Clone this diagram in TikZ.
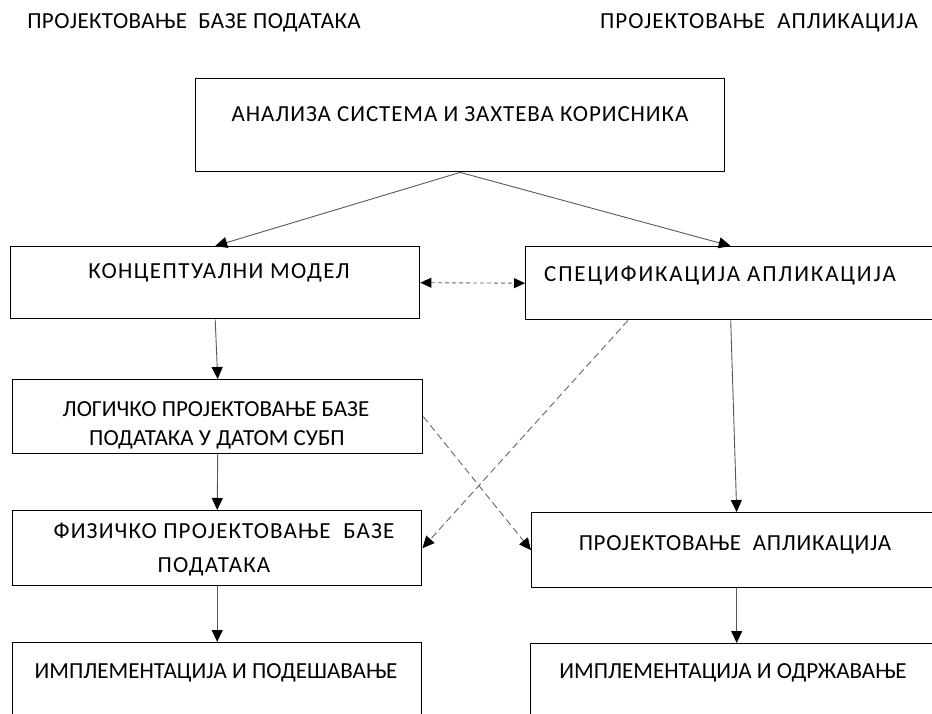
\documentclass[tikz,border=0pt]{standalone}
\usepackage{fontspec}
\setmainfont{Carlito}
\usetikzlibrary{arrows.meta,calc}
\newcommand{\ls}[1]{\addfontfeatures{LetterSpace=#1}}
\begin{document}
\begin{tikzpicture}[x=1pt,y=-1pt,
  box/.style={draw=black, line width=1.4pt, inner sep=0pt, anchor=north west},
  lbl/.style={font=\fontsize{23}{27}\selectfont, inner sep=0pt, anchor=base},
  tip/.style={-{Triangle[length=12pt,width=11pt,color=black]}},
  conn/.style={draw=black!65, line width=0.9pt, tip},
  dconn/.style={draw=black!60, line width=0.9pt, dash pattern=on 7pt off 4pt, tip},
  dd/.style={draw=black!60, line width=0.9pt, dash pattern=on 4pt off 3pt,
    {Triangle[length=11pt,width=10pt,color=black]}-{Triangle[length=11pt,width=10pt,color=black]}},
]
\useasboundingbox (0,0) rectangle (932,714);
\clip (0,0) rectangle (932,714);
\fill[white] (0,0) rectangle (932,714);

% titles
\node[lbl] (tl) at (194,29) {\ls{2}ПРОЈЕКТОВАЊЕ\ \ БАЗЕ ПОДАТАКА};
\node[lbl] (tr) at (759,29) {\ls{4}ПРОЈЕКТОВАЊЕ\ \ АПЛИКАЦИЈА};

% boxes
\node[box, minimum width=529pt, minimum height=93pt] (ana) at (195,78) {};
\node[box, minimum width=409pt, minimum height=72pt] (cm) at (10,246) {};
\node[box, minimum width=410pt, minimum height=73pt] (spec) at (525,246) {};
\node[box, minimum width=410pt, minimum height=74pt] (lp) at (12,379) {};
\node[box, minimum width=409pt, minimum height=75pt] (fp) at (12,510) {};
\node[box, minimum width=409pt, minimum height=120pt] (il) at (12,642) {};
\node[box, minimum width=410pt, minimum height=75pt] (pa) at (531,512) {};
\node[box, minimum width=412pt, minimum height=120pt] (ir) at (530,643) {};

% texts
\node[lbl] (anat) at (460,122) {\ls{4}АНАЛИЗА СИСТЕМА И ЗАХТЕВА КОРИСНИКА};
\node[lbl] (cmt) at (219,278) {\ls{6}КОНЦЕПТУАЛНИ МОДЕЛ};
\node[lbl] (spect) at (720,281) {\ls{8}СПЕЦИФИКАЦИЈА АПЛИКАЦИЈА};
\node[lbl] (lpt1) at (216,416) {ЛОГИЧКО ПРОЈЕКТОВАЊЕ БАЗЕ};
\node[lbl] (lpt2) at (217,445) {ПОДАТАКА У ДАТОМ СУБП};
\node[lbl] (fpt1) at (224,538) {\ls{5}ФИЗИЧКО ПРОЈЕКТОВАЊЕ\ \ БАЗЕ};
\node[lbl] (fpt2) at (214,572) {\ls{5}ПОДАТАКА};
\node[lbl] (ilt) at (216,678) {ИМПЛЕМЕНТАЦИЈА И ПОДЕШАВАЊЕ};
\node[lbl] (pat) at (735,550) {\ls{3}ПРОЈЕКТОВАЊЕ\ \ АПЛИКАЦИЈА};
\node[lbl] (irt) at (733,678) {ИМПЛЕМЕНТАЦИЈА И ОДРЖАВАЊЕ};

% connectors
\draw[conn] (ana.south) -- (cm.north);
\draw[conn] (ana.south) -- (spec.north);
\draw[dd] (cm.east) -- (spec.west);
\draw[conn] (cm.south) -- (lp.north);
\draw[conn] (lp.south) -- (fp.north);
\draw[conn] (fp.south) -- (il.north);
\draw[conn] (spec.south) -- (pa.north);
\draw[conn] (pa.south) -- (ir.north);
\coordinate (sd) at ($(spec.south west)+(103,0)$);
\draw[dconn] (sd) -- (fp.east);
\draw[dconn] (lp.east) -- (pa.west);
\end{tikzpicture}
\end{document}
